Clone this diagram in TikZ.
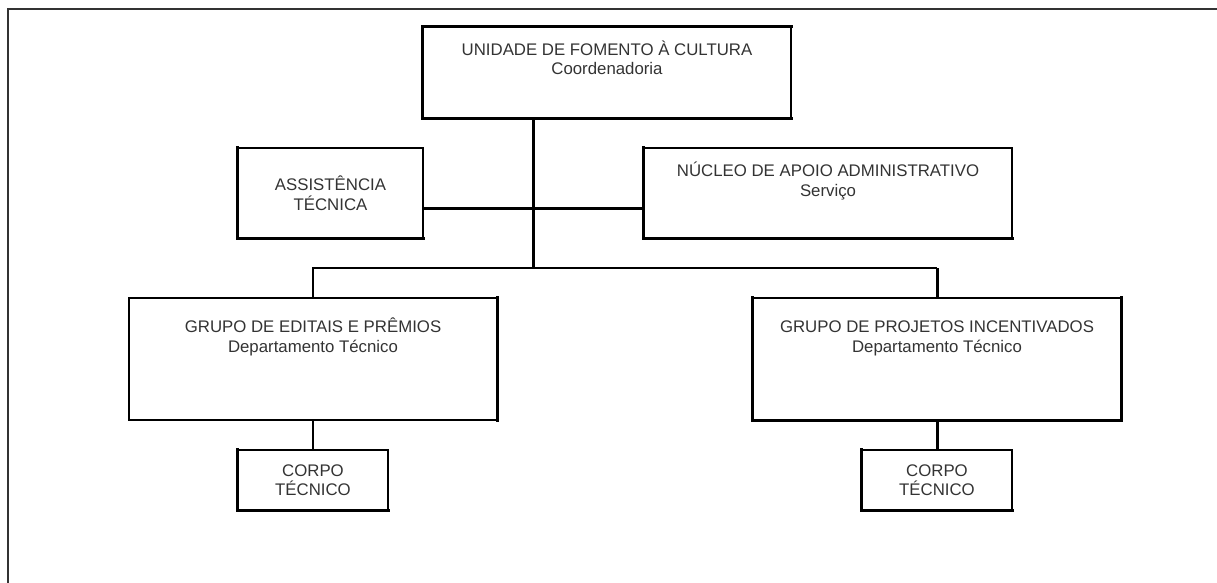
\documentclass[tikz,border=0pt]{standalone}
\usepackage{fontspec}
\setmainfont{Liberation Sans}
\usetikzlibrary{positioning}
\newcommand{\orgfont}{\fontsize{16.8}{19.5}\selectfont}
\newcommand{\topstrut}{\rule{0pt}{17pt}}
\tikzstyle{box}=[rectangle,draw=black,line width=1.4pt,inner sep=0pt,font=\orgfont,text=black!80,align=center]
\tikzstyle{boxtext}=[inner sep=0pt,anchor=north,font=\orgfont,text=black!80,align=center]
\tikzstyle{thickside}=[draw=black,line width=3pt,line cap=rect]
\tikzstyle{thinedge}=[draw=black,line width=1.4pt]
\tikzstyle{thickedge}=[draw=black,line width=3pt]

\begin{document}
\begin{tikzpicture}[x=1pt,y=-1pt]
    \useasboundingbox (0,0) rectangle (1217,583);
    % page frame
    \draw[line width=1.5pt,black!80] (8,583) -- (8,9) -- (1217,9);

    % First we draw the boxes
    \node[box,minimum width=368,minimum height=91] (unidade) at (607,72.5) {};
    \node[boxtext,below=12pt of unidade.north] (unidadetxt) {\topstrut UNIDADE DE FOMENTO À CULTURA\\Coordenadoria};

    \node[box,minimum width=185,minimum height=90] (assist) at (330.5,193) {ASSISTÊNCIA\\TÉCNICA};

    \node[box,minimum width=368,minimum height=90] (nucleo) at (828,193) {};
    \node[boxtext,below=12pt of nucleo.north] (nucleotxt) {\topstrut NÚCLEO DE APOIO ADMINISTRATIVO\\Serviço};

    \node[box,minimum width=368,minimum height=122] (editais) at (313,359) {};
    \node[boxtext,below=18pt of editais.north] (editaistxt) {\topstrut GRUPO DE EDITAIS E PRÊMIOS\\Departamento Técnico};

    \node[box,minimum width=368,minimum height=122] (projetos) at (937,359) {};
    \node[boxtext,below=18pt of projetos.north] (projetostxt) {\topstrut GRUPO DE PROJETOS INCENTIVADOS\\Departamento Técnico};

    \foreach \pos/ \name in {{(313,480)/corpoa},{(937,480)/corpob}}
        \node[box,minimum width=150,minimum height=60] (\name) at \pos {CORPO\\TÉCNICO};

    % heavier sides of the boxes
    \foreach \name/ \from/ \to in {unidade/south west/north west, unidade/north west/north east,
        unidade/south west/south east, assist/south west/north west, assist/south west/south east,
        nucleo/south west/north west, nucleo/south west/south east, editais/south east/north east,
        projetos/south west/north west, projetos/south east/north east, projetos/south west/south east,
        corpoa/south west/north west, corpoa/south west/south east,
        corpob/south west/north west, corpob/south west/south east}
        \path[thickside] (\name.\from) -- (\name.\to);

    % Connect the boxes
    \coordinate (hub) at (533,268);
    \coordinate (link) at (533,208);
    \path[thickedge] (hub |- unidade.south) -- (hub);
    \path[thickedge] (link -| assist.east) -- (link -| nucleo.west);
    \path[thinedge] (editais.north) |- (hub -| projetos.north);
    \path[thickedge] (hub -| projetos.north) -- (projetos.north);
    \path[thinedge] (editais.south) -- (corpoa.north);
    \path[thickedge] (projetos.south) -- (corpob.north);
\end{tikzpicture}
\end{document}
